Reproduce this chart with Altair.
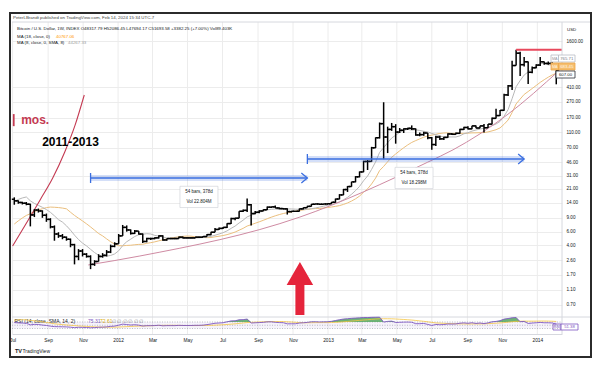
import altair as alt
import pandas as pd

FONT = "Liberation Sans"
INK = "#131722"
GRID = "#ececec"
SEP = "#d6d8de"

# ---------------- data (weekly bars) ----------------
first_week = "2011-07-04"
opens = [15.5, 14.8, 14.1, 13.8, 13.4, 9.8, 11.3, 11.0, 9.7, 8.6,
         6.9, 5.6, 5.3, 5.1, 4.8, 4.1, 2.9, 3.4, 3.1, 2.9,
         2.3, 2.5, 2.9, 3.0, 3.3, 3.9, 4.2, 5.3, 6.8, 6.3,
         5.7, 6.1, 5.6, 4.5, 4.9, 4.9, 5.0, 5.3, 4.7, 4.9,
         4.9, 4.9, 5.1, 5.0, 5.0, 5.0, 5.1, 5.1, 5.2, 5.5,
         5.9, 6.4, 6.6, 6.8, 7.6, 8.8, 8.9, 10.9, 11.2, 13.2,
         10.2, 10.6, 11.0, 11.4, 12.3, 12.4, 12.0, 11.8, 11.7, 10.8,
         10.9, 10.9, 11.7, 12.1, 12.6, 13.4, 13.5, 13.4, 13.5, 13.6,
         14.2, 15.6, 17.6, 20.6, 22.5, 25.8, 29.9, 34.5, 46.9, 47.0,
         70.0, 94.0, 142.0, 96.0, 120.0, 130.0, 111.0, 117.0, 122.0, 124.0,
         122.0, 102.0, 103.0, 108.0, 94.0, 77.0, 96.0, 91.0, 95.0, 105.0,
         104.0, 107.0, 120.0, 127.0, 122.0, 133.0, 125.0, 133.0, 126.0, 140.0,
         166.0, 180.0, 210.0, 330.0, 430.0, 780.0, 1120.0, 800.0, 870.0, 640.0,
         730.0, 790.0, 870.0, 830.0, 830.0, 810.0]
highs = [16.4, 15.0, 14.4, 14.3, 13.6, 11.6, 11.8, 11.2, 10.2, 8.9,
         7.2, 5.9, 5.6, 5.2, 4.9, 4.2, 3.6, 3.6, 3.2, 3.0,
         2.6, 3.1, 3.2, 3.5, 4.1, 4.4, 5.6, 7.3, 7.2, 6.4,
         6.3, 6.1, 5.7, 5.0, 5.0, 5.1, 5.4, 5.4, 4.9, 5.0,
         5.0, 5.2, 5.2, 5.1, 5.1, 5.1, 5.2, 5.3, 5.6, 6.0,
         6.7, 6.8, 6.9, 7.7, 9.0, 9.0, 10.9, 11.5, 15.9, 13.5,
         11.0, 11.2, 11.5, 12.5, 12.4, 12.9, 12.2, 12.0, 11.9, 11.0,
         11.0, 11.8, 12.2, 12.8, 13.5, 13.7, 13.6, 13.6, 13.8, 14.3,
         15.8, 18.0, 21.0, 22.8, 25.9, 30.5, 35.0, 48.0, 49.0, 72.0,
         95.0, 147.0, 266.0, 130.0, 145.0, 140.0, 125.0, 124.0, 126.0, 135.0,
         123.0, 110.0, 112.0, 108.0, 96.0, 100.0, 100.0, 97.0, 107.0, 108.0,
         110.0, 122.0, 130.0, 132.0, 134.0, 135.0, 134.0, 141.0, 141.0, 170.0,
         220.0, 212.0, 340.0, 440.0, 900.0, 1240.0, 1165.0, 1000.0, 880.0, 760.0,
         810.0, 1000.0, 880.0, 880.0, 870.0, 830.0]
lows = [13.2, 13.6, 13.3, 13.0, 7.0, 9.2, 10.5, 9.0, 8.0, 6.6,
        4.6, 5.0, 4.8, 4.6, 3.8, 2.3, 2.6, 2.9, 2.8, 2.0,
        2.2, 2.5, 2.8, 2.9, 3.2, 3.8, 4.2, 5.3, 6.0, 5.5,
        5.6, 5.5, 4.3, 4.4, 4.7, 4.8, 4.9, 4.6, 4.6, 4.8,
        4.8, 4.9, 4.9, 4.9, 4.9, 4.9, 5.0, 5.1, 5.2, 5.4,
        5.9, 6.3, 6.5, 6.7, 7.5, 8.4, 8.9, 10.7, 10.7, 7.2,
        10.0, 10.3, 10.9, 11.3, 12.0, 12.0, 11.6, 11.5, 9.9, 10.5,
        10.7, 10.8, 11.5, 12.1, 12.5, 13.3, 13.1, 13.2, 13.2, 13.5,
        14.0, 15.5, 17.5, 19.2, 22.4, 25.5, 29.5, 34.3, 36.5, 46.5,
        69.5, 92.0, 50.0, 60.0, 115.0, 79.0, 108.0, 108.0, 118.0, 118.0,
        100.0, 98.0, 100.0, 90.0, 66.0, 74.0, 88.0, 88.0, 94.0, 102.0,
        103.0, 106.0, 118.0, 120.0, 121.0, 124.0, 124.0, 110.0, 125.0, 139.0,
        165.0, 178.0, 208.0, 320.0, 380.0, 780.0, 576.0, 760.0, 455.0, 620.0,
        720.0, 770.0, 800.0, 800.0, 790.0, 450.0]
closes = [14.8, 14.1, 13.8, 13.4, 9.8, 11.3, 11.0, 9.7, 8.6, 6.9,
          5.6, 5.3, 5.1, 4.8, 4.1, 2.9, 3.4, 3.1, 2.9, 2.3,
          2.5, 2.9, 3.0, 3.3, 3.9, 4.2, 5.3, 6.8, 6.3, 5.7,
          6.1, 5.6, 4.5, 4.9, 4.9, 5.0, 5.3, 4.7, 4.9, 4.9,
          4.9, 5.1, 5.0, 5.0, 5.0, 5.1, 5.1, 5.2, 5.5, 5.9,
          6.4, 6.6, 6.8, 7.6, 8.8, 8.9, 10.9, 11.2, 13.2, 10.2,
          10.6, 11.0, 11.4, 12.3, 12.4, 12.0, 11.8, 11.7, 10.8, 10.9,
          10.9, 11.7, 12.1, 12.6, 13.4, 13.5, 13.4, 13.5, 13.6, 14.2,
          15.6, 17.6, 20.6, 22.5, 25.8, 29.9, 34.5, 46.9, 47.0, 70.0,
          94.0, 142.0, 96.0, 120.0, 130.0, 111.0, 117.0, 122.0, 124.0, 122.0,
          102.0, 103.0, 108.0, 94.0, 77.0, 96.0, 91.0, 95.0, 105.0, 104.0,
          107.0, 120.0, 127.0, 122.0, 133.0, 125.0, 133.0, 126.0, 140.0, 166.0,
          180.0, 210.0, 330.0, 430.0, 780.0, 1120.0, 800.0, 870.0, 640.0, 730.0,
          790.0, 870.0, 830.0, 830.0, 810.0, 680.0]
# weekly closes before the first visible bar (needed by the moving averages / RSI)
warmup_closes = [0.87, 0.82, 0.86, 0.78, 0.72, 0.95, 1.2, 2.0, 3.4, 6.9,
                 7.1, 8.4, 9.6, 24.0, 20.0, 17.0, 15.5]

y_tick_values = [1600, 410, 270, 170, 110, 70, 46, 31, 21, 14, 9, 6, 4, 2.6, 1.7, 1.1, 0.7]
x_tick_months = [(2011, 7), (2011, 9), (2011, 11), (2012, 1), (2012, 3), (2012, 5),
                 (2012, 7), (2012, 9), (2012, 11), (2013, 1), (2013, 3), (2013, 5),
                 (2013, 7), (2013, 9), (2013, 11), (2014, 1)]

# drawings
red_curve_dates = ["2011-07-01", "2011-08-18", "2011-09-09", "2011-09-30", "2011-10-18", "2011-11-03"]
red_curve_prices = [3.94, 15.2, 28.9, 62.0, 136.0, 329.0]
trend_dates = ["2011-11-10", "2012-02-08", "2012-11-13", "2013-06-24", "2013-08-07", "2013-11-09", "2014-02-09"]
trend_prices = [2.26, 2.94, 9.2, 46.0, 66.0, 183.0, 684.0]

range_starts = ["2011-11-14", "2012-11-26"]
range_ends = ["2012-11-26", "2013-12-09"]
range_prices = [28.9, 50.4]
range_text1 = ["54 bars, 378d", "54 bars, 378d"]
range_text2 = ["Vol 22.804M", "Vol 18.298M"]
range_label_dates = ["2012-05-21", "2013-05-31"]
range_label_prices = [16.6, 28.9]

peak_from, peak_to, peak_price = "2013-11-25", "2014-02-13", 1240.0
year_note = ("2011-10-10", 83.0, "2011-2013")
mos_note = ("2011-07-16", 158.0, "mos.")
mos_bar = ("2011-07-03", 132.0, 188.0)
arrow_up = ("2012-11-13", 1.135)

# ---------------- derived tables ----------------
dates = pd.date_range(first_week, periods=len(closes), freq="7D")
all_close = pd.Series(warmup_closes + closes, dtype=float)
ma8 = all_close.rolling(8, min_periods=1).mean()
ma18 = all_close.rolling(18, min_periods=1).mean()
delta = all_close.diff().fillna(0)
ag = delta.clip(lower=0).ewm(alpha=1 / 14, adjust=False).mean()
al = (-delta).clip(lower=0).ewm(alpha=1 / 14, adjust=False).mean()
rsi = 100 - 100 / (1 + ag / al.replace(0, 1e-9))
rsi_ma = rsi.rolling(14, min_periods=1).mean()
n0 = len(warmup_closes)

bars = pd.DataFrame({
    "date": dates.strftime("%Y-%m-%d"),
    "o": opens, "h": highs, "l": lows, "c": closes,
    "ma8": ma8.iloc[n0:].values, "ma18": ma18.iloc[n0:].values,
    "rsi": rsi.iloc[n0:].values, "rsi_ma": rsi_ma.iloc[n0:].values,
})
bars["rsi_ob"] = bars["rsi"].clip(lower=70)

red_df = pd.DataFrame({"date": red_curve_dates, "p": red_curve_prices})
trend_df = pd.DataFrame({"date": trend_dates, "p": trend_prices})
range_df = pd.DataFrame({"date": range_starts, "date2": range_ends, "p": range_prices})
range_end_df = pd.DataFrame({"date": range_ends, "p": range_prices})
label_df = pd.DataFrame({"date": range_label_dates, "p": range_label_prices,
                         "t1": range_text1, "t2": range_text2})
peak_df = pd.DataFrame({"date": [peak_from], "date2": [peak_to], "p": [peak_price]})
year_df = pd.DataFrame({"date": [year_note[0]], "p": [year_note[1]], "t": [year_note[2]]})
mos_df = pd.DataFrame({"date": [mos_note[0]], "p": [mos_note[1]], "t": [mos_note[2]]})
mosbar_df = pd.DataFrame({"date": [mos_bar[0]], "lo": [mos_bar[1]], "hi": [mos_bar[2]]})
arrow_df = pd.DataFrame({"date": [arrow_up[0]], "p": [arrow_up[1]]})
vgrid_df = pd.DataFrame({"date": [f"{y}-{m:02d}-01" for y, m in x_tick_months]})

# ---------------- scales / axes ----------------
x_scale = alt.Scale(type="utc", domain=[alt.DateTime(year=2011, month=6, date=30, utc=True),
                                        alt.DateTime(year=2014, month=2, date=13, utc=True)])
x_axis = alt.Axis(
    values=[alt.DateTime(year=y, month=m, date=1, utc=True) for y, m in x_tick_months],
    labelExpr="utcFormat(datum.value, '%m') == '01' ? utcFormat(datum.value, '%Y') : utcFormat(datum.value, '%b')",
    title=None, grid=False, ticks=False, tickSize=0, domain=True, domainColor=SEP,
    labelFontSize=4.8, labelColor=INK, labelFont=FONT, labelPadding=3, offset=17,
    labelOverlap=False, labelFlush=False)
y_scale = alt.Scale(type="log", domain=[0.492, 2793], nice=False)
y_axis = alt.Axis(orient="right", values=y_tick_values, format=".2f", title=None,
                  ticks=False, tickSize=0, domain=False, grid=True, gridColor=GRID,
                  labelFontSize=4.6, labelColor=INK, labelFont=FONT, labelPadding=4,
                  labelOverlap=False, labelFlush=False)
rsi_scale = alt.Scale(domain=[0, 100], range=[311.4, 295.1], nice=False, zero=False)


def X(f):
    return alt.X(f"{f}:T", scale=x_scale, axis=x_axis)


def Y(f):
    return alt.Y(f"{f}:Q", scale=y_scale, axis=y_axis)


def RY(f):
    return alt.Y(f"{f}:Q", scale=rsi_scale, axis=None)


dummy = pd.DataFrame({"k": [0]})


def txt(s, x, y, size=4.4, color=INK, align="left", weight="normal"):
    return alt.Chart(dummy).mark_text(text=s, align=align, baseline="middle", fontSize=size,
                                      color=color, fontWeight=weight, font=FONT).encode(
        x=alt.value(x), y=alt.value(y))


def box(x1, x2, y1, y2, fill="white", stroke=None, sw=0.8):
    kw = {"fill": fill}
    if stroke:
        kw.update(stroke=stroke, strokeWidth=sw)
    return alt.Chart(dummy).mark_rect(**kw).encode(
        x=alt.value(x1), x2=alt.value(x2), y=alt.value(y1), y2=alt.value(y2))


def seg(x1, x2, y1, y2, color=SEP, sw=1):
    return alt.Chart(dummy).mark_rule(color=color, strokeWidth=sw).encode(
        x=alt.value(x1), x2=alt.value(x2), y=alt.value(y1), y2=alt.value(y2))


# ---------------- price pane ----------------
vgrid = alt.Chart(vgrid_df).mark_rule(color=GRID, strokeWidth=1).encode(
    x=X("date"), y=alt.value(0), y2=alt.value(312))
ma18_line = alt.Chart(bars).mark_line(color="#ebbf7e", strokeWidth=1).encode(x=X("date"), y=Y("ma18"))
ma8_line = alt.Chart(bars).mark_line(color="#b8b8b8", strokeWidth=1).encode(x=X("date"), y=Y("ma8"))
trend_line = alt.Chart(trend_df).mark_line(color="#cf8ba3", strokeWidth=1, interpolate="monotone").encode(
    x=X("date"), y=Y("p"))
red_curve = alt.Chart(red_df).mark_line(color="#c43a52", strokeWidth=1.1, interpolate="monotone").encode(
    x=X("date"), y=Y("p"))

hl = alt.Chart(bars).mark_rule(color="#000000", strokeWidth=1.5).encode(x=X("date"), y=Y("l"), y2=alt.Y2("h"))
op = alt.Chart(bars).mark_rule(color="#000000", strokeWidth=1.5, xOffset=-2.5, x2Offset=0).encode(
    x=X("date"), x2=alt.X2("date"), y=Y("o"))
cl = alt.Chart(bars).mark_rule(color="#000000", strokeWidth=1.5, xOffset=0, x2Offset=2.5).encode(
    x=X("date"), x2=alt.X2("date"), y=Y("c"))

BLUE = "#3b6fe0"
rng_band = alt.Chart(range_df).mark_rule(color=BLUE, strokeWidth=6, opacity=0.22).encode(
    x=X("date"), x2=alt.X2("date2"), y=Y("p"))
rng_line = alt.Chart(range_df).mark_rule(color=BLUE, strokeWidth=1.3).encode(
    x=X("date"), x2=alt.X2("date2"), y=Y("p"))
rng_cap = alt.Chart(range_df).mark_point(shape="M0,-1L0,1", size=100, filled=False, color=BLUE,
                                         strokeWidth=1.3, opacity=1).encode(x=X("date"), y=Y("p"))
rng_head = alt.Chart(range_end_df).mark_point(shape="M-1.2,-1L0,0L-1.2,1", size=100, filled=False,
                                              color=BLUE, strokeWidth=1.3, opacity=1).encode(x=X("date"), y=Y("p"))
lab_box = alt.Chart(label_df).mark_point(shape="M-1,-0.56L1,-0.56L1,0.56L-1,0.56Z", size=1444, filled=True,
                                         color="white", stroke="#c9ccd4", strokeWidth=0.6, opacity=1).encode(
    x=X("date"), y=Y("p"))
lab_t1 = alt.Chart(label_df).mark_text(fontSize=4.5, color=INK, font=FONT, dy=-4.8).encode(
    x=X("date"), y=Y("p"), text="t1:N")
lab_t2 = alt.Chart(label_df).mark_text(fontSize=4.5, color=INK, font=FONT, dy=4.8).encode(
    x=X("date"), y=Y("p"), text="t2:N")

peak_line = alt.Chart(peak_df).mark_rule(color="#e8485c", strokeWidth=2).encode(
    x=X("date"), x2=alt.X2("date2"), y=Y("p"))
year_txt = alt.Chart(year_df).mark_text(fontSize=12, fontWeight="bold", color="#000000", font=FONT).encode(
    x=X("date"), y=Y("p"), text="t:N")
mos_txt = alt.Chart(mos_df).mark_text(fontSize=12, fontWeight="bold", color="#c43a52", font=FONT,
                                      align="left").encode(x=X("date"), y=Y("p"), text="t:N")
mos_stub = alt.Chart(mosbar_df).mark_rule(color="#c43a52", strokeWidth=1.8).encode(
    x=X("date"), y=Y("lo"), y2=alt.Y2("hi"))
big_arrow = alt.Chart(arrow_df).mark_point(
    shape="M0,-1L0.5,-0.13L0.17,-0.13L0.17,1L-0.17,1L-0.17,-0.13L-0.5,-0.13Z",
    size=2809, filled=True, color="#e5243b", opacity=1).encode(x=X("date"), y=Y("p"))

ui = [
    seg(0, 578, 0, 0), seg(0, 578, 295, 295), seg(550, 550, 0, 312),
    txt("PeterLBrandt published on TradingView.com, Feb 14, 2024 15:34 UTC-7", 1, -3.7, color="#444444"),
    txt("Bitcoin / U.S. Dollar, 1W, INDEX  O48317.79  H52086.45  L47694.17  C51693.58  +3382.25 (+7.00%)  Vol89.403K", 5, 7.3),
    txt("MA (18, close, 0)", 5, 14.7), txt("40767.06", 44, 14.7, color="#ff9800"),
    txt("MA (8, close, 0, SMA, 8)", 5, 21.3), txt("44267.33", 56, 21.3, color="#9e9e9e"),
    txt("USD", 555, 8),
    box(539, 546.5, 33, 40, stroke="#b8bbc4"), txt("MA", 542.75, 36.5, size=3.8, color="#9598a1", align="center"),
    box(546.5, 563, 33, 40, stroke="#b8bbc4"), txt("765.71", 554.75, 36.5, size=4.3, color="#787b86", align="center"),
    box(539, 546.5, 41, 48, fill="#f6be6e", stroke="#eea64a"), txt("MA", 542.75, 44.5, size=3.8, color="#fff6e6", align="center"),
    box(546.5, 563, 41, 48, fill="#f6be6e", stroke="#eea64a"), txt("683.45", 554.75, 44.5, size=4.3, color="#fff6e6", align="center"),
    box(544, 563, 49, 56, stroke="#2a2e39"), txt("607.00", 553.5, 52.5, size=4.3, color=INK, align="center"),
    txt("RSI (14, close, SMA, 14, 2)", 2.5, 299, size=5), txt("75.31", 76, 299, size=5, color="#7e57c2"),
    txt("72.61", 88, 299, size=5, color="#d8aa00"), txt("\u2205 \u2205 \u2205 \u2205 \u2205 \u2205", 100, 299, size=5, color="#9598a1"),
    box(541, 549, 302, 308, stroke="#7e57c2"), txt("RSI", 545, 305, size=3.8, color="#7e57c2", align="center"),
    box(549, 566, 302, 308, stroke="#7e57c2"), txt("51.38", 557.5, 305, size=4.3, color="#7e57c2", align="center"),
    txt("TV", 3, 329, size=5.5, weight="bold", color="#131722"), txt("TradingView", 10.5, 329, size=5, color="#131722"),
    alt.Chart(dummy).mark_rect(fill="transparent", stroke="#2b2b2b", strokeWidth=2).encode(
        x=alt.value(-2), x2=alt.value(579), y=alt.value(-9), y2=alt.value(335)),
]

price = alt.layer(vgrid, ma18_line, ma8_line, trend_line, red_curve, hl, op, cl,
                  rng_band, rng_line, rng_cap, rng_head, lab_box, lab_t1, lab_t2,
                  peak_line, year_txt, mos_txt, mos_stub, big_arrow, *ui)

# ---------------- RSI pane ----------------
band_df = pd.DataFrame({"hi": [70], "lo": [30]})
lvl_df = pd.DataFrame({"lvl": [70, 50, 30]})
rsi_band = alt.Chart(band_df).mark_rect(color="#7e57c2", opacity=0.07).encode(
    x=alt.value(0), x2=alt.value(550), y=RY("hi"), y2=alt.Y2("lo"))
rsi_lvls = alt.Chart(lvl_df).mark_rule(color="#9598a1", strokeWidth=0.6, strokeDash=[1, 1.5]).encode(
    x=alt.value(0), x2=alt.value(550), y=RY("lvl"))
rsi_fill = alt.Chart(bars).mark_area(color="#3d9a4a", opacity=0.75).encode(
    x=X("date"), y=RY("rsi_ob"), y2=alt.datum(70))
rsi_ma_line = alt.Chart(bars).mark_line(color="#f5c542", strokeWidth=0.8).encode(x=X("date"), y=RY("rsi_ma"))
rsi_line = alt.Chart(bars).mark_line(color="#7e57c2", strokeWidth=0.9).encode(x=X("date"), y=RY("rsi"))
rsi_pane = alt.layer(rsi_band, rsi_lvls, rsi_fill, rsi_ma_line, rsi_line)

chart = alt.layer(price, rsi_pane).resolve_scale(y="independent").properties(
    width=550, height=295,
    autosize=alt.AutoSizeParams(type="none"),
    padding={"left": 4, "top": 14, "right": 30, "bottom": 41},
    background="white",
).configure_view(stroke=None)

chart.save("out.html", embed_options={"renderer": "svg", "actions": False})
